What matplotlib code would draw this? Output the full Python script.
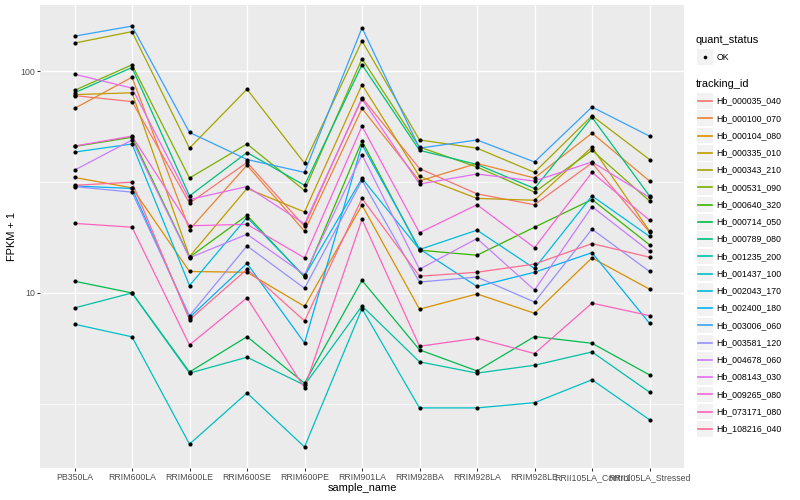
import matplotlib
matplotlib.use("Agg")
import matplotlib.pyplot as plt
from matplotlib.patches import Rectangle
from matplotlib.lines import Line2D
import numpy as np

plt.rcParams['font.family'] = ['Liberation Sans', 'DejaVu Sans']

samples = ["PB350LA", "RRIM600LA", "RRIM600LE", "RRIM600SE", "RRIM600PE",
           "RRIM901LA", "RRIM928BA", "RRIM928LA", "RRIM928LE",
           "RRII105LA_Control", "RRII105LA_Stressed"]

tracking_ids = ["Hb_000035_040", "Hb_000100_070", "Hb_000104_080", "Hb_000335_010",
                "Hb_000343_210", "Hb_000531_090", "Hb_000640_320", "Hb_000714_050",
                "Hb_000789_080", "Hb_001235_200", "Hb_001437_100", "Hb_002043_170",
                "Hb_002400_180", "Hb_003006_060", "Hb_003581_120", "Hb_004678_060",
                "Hb_008143_030", "Hb_009265_080", "Hb_073171_080", "Hb_108216_040"]

colors = ["#F8766D", "#EA8331", "#D89000", "#C09B00", "#A3A500", "#7CAE00", "#39B600",
          "#00BB4E", "#00BF7D", "#00C1A3", "#00BFC4", "#00BAE0", "#00B0F6", "#35A2FF",
          "#9590FF", "#C77CFF", "#E76BF3", "#FA62DB", "#FF62BC", "#FF6C91"]

# FPKM + 1 per sample (order as in `samples`)
hb_000035_040 = [77.7, 73, 25.4, 38.8, 20, 76, 36.4, 28, 25, 38.6, 18.8]
hb_000100_070 = [68, 94, 19.3, 37.7, 19, 68, 32, 38.4, 33, 52.6, 32]
hb_000104_080 = [33.2, 29.8, 12.5, 12.4, 8.7, 24.9, 8.45, 9.9, 8.1, 14.4, 10.4]
hb_000335_010 = [78.5, 80, 14.6, 29.6, 23.2, 87, 33.6, 26.7, 26.2, 45.5, 19]
hb_000343_210 = [134, 151, 45, 83, 38.5, 137, 49, 45, 35, 63, 40]
hb_000531_090 = [82, 107, 33, 47, 29, 114, 45.5, 37, 28.5, 44, 26]
hb_000640_320 = [45.8, 50.4, 14.5, 22.4, 11.8, 48.4, 15.6, 14.8, 19.8, 26.4, 16.5]
hb_000714_050 = [11.3, 10, 4.4, 6.35, 3.92, 11.4, 5.54, 4.45, 6.36, 5.93, 4.27]
hb_000789_080 = [80, 104, 27.4, 43, 30.6, 107, 44, 38, 29.6, 62, 27.4]
hb_001235_200 = [8.56, 10, 4.35, 5.13, 3.84, 8.74, 4.89, 4.35, 4.72, 5.42, 3.57]
hb_001437_100 = [7.23, 6.34, 2.08, 3.54, 2.02, 8.5, 3.03, 3.03, 3.2, 4.06, 2.68]
hb_002043_170 = [43.2, 47, 10.8, 21.9, 11.9, 32.9, 15.7, 19.2, 12.9, 27.4, 18]
hb_002400_180 = [30.4, 29.6, 7.75, 13.6, 5.95, 46.7, 15.8, 10.7, 12.4, 15.2, 7.3]
hb_003006_060 = [144, 160, 53, 40, 35, 157, 45, 49, 39, 69, 51]
hb_003581_120 = [30.2, 28.5, 7.9, 16.3, 10.5, 32.2, 11.2, 11.8, 9.1, 19.4, 12.5]
hb_004678_060 = [35.8, 49, 14.4, 18.4, 12.1, 42, 12.8, 17.6, 10.3, 24.5, 15.4]
hb_008143_030 = [97, 84, 26.4, 30.2, 20.5, 75, 31, 34.4, 32, 39, 27]
hb_009265_080 = [46, 51, 20.1, 20.4, 14.4, 56.5, 18.7, 25, 16, 35, 21.3]
hb_073171_080 = [20.6, 19.8, 5.83, 9.5, 3.73, 21.5, 5.75, 6.25, 5.33, 9.0, 7.9]
hb_108216_040 = [30.6, 31.6, 7.56, 12.8, 7.48, 26.7, 11.9, 12.4, 13.5, 16.7, 14.5]

series = [hb_000035_040, hb_000100_070, hb_000104_080, hb_000335_010, hb_000343_210,
          hb_000531_090, hb_000640_320, hb_000714_050, hb_000789_080, hb_001235_200,
          hb_001437_100, hb_002043_170, hb_002400_180, hb_003006_060, hb_003581_120,
          hb_004678_060, hb_008143_030, hb_009265_080, hb_073171_080, hb_108216_040]

W, H = 800, 500
fig = plt.figure(figsize=(W / 100, H / 100), dpi=100)
fig.patch.set_facecolor("white")

# panel in pixel coordinates
pl, pr, pt, pb = 40, 684, 5, 468
ax = fig.add_axes([pl / W, 1 - pb / H, (pr - pl) / W, (pb - pt) / H])
ax.set_facecolor("#EBEBEB")
for s in ax.spines.values():
    s.set_visible(False)

x = np.arange(len(samples))
for vals, c in zip(series, colors):
    ax.plot(x, vals, color=c, lw=0.9, zorder=2, solid_capstyle="butt")
for vals in series:
    ax.plot(x, vals, linestyle="none", marker="o", ms=3.0, mfc="black",
            mec="black", mew=0, zorder=3)

ax.set_yscale("log")
allv = np.concatenate([np.asarray(v, float) for v in series])
lo, hi = np.log10(allv.min()), np.log10(allv.max())
pad = 0.05 * (hi - lo)
ax.set_ylim(10 ** (lo - pad), 10 ** (hi + pad))
ax.set_xlim(-0.6, len(samples) - 0.4)

ax.set_yticks([10, 100])
ax.set_yticklabels(["10", "100"])
ax.set_yticks([10 ** 0.5, 10 ** 1.5], minor=True)
ax.yaxis.set_minor_formatter(matplotlib.ticker.NullFormatter())
ax.set_xticks(x)
ax.set_xticklabels(samples)
ax.xaxis.set_minor_locator(matplotlib.ticker.NullLocator())

ax.set_axisbelow(True)
ax.grid(True, which="major", color="white", lw=1.0)
ax.grid(True, which="minor", axis="y", color="white", lw=0.5)
ax.tick_params(which="major", length=2.0, width=0.75, color="#333333",
               labelsize=6.34, labelcolor="#4D4D4D", pad=1.6)
ax.tick_params(which="minor", length=0)

fs_title = 7.92
fs_text = 6.34


def fx(px):
    return px / W


def fy(py):
    return 1 - py / H


fig.text(fx(12), fy((pt + pb) / 2), "FPKM + 1", rotation=90, ha="center",
         va="center", fontsize=fs_title, color="black")
fig.text(fx((pl + pr) / 2), fy(488), "sample_name", ha="center", va="center",
         fontsize=fs_title, color="black")

# legend: quant_status
lx_title = 696
kx0, kw = 697.3, 15.5
kcx = kx0 + kw / 2
tx = 716.7
fig.text(fx(lx_title), fy(40), "quant_status", ha="left", va="center",
         fontsize=fs_title)
fig.add_artist(Rectangle((fx(kx0), fy(57 + kw / 2)), kw / W, kw / H,
                         transform=fig.transFigure, facecolor="#F2F2F2",
                         edgecolor="none"))
fig.add_artist(Line2D([fx(kcx)], [fy(57)], transform=fig.transFigure,
                      marker="o", ms=2.6, mfc="black", mec="black", mew=0,
                      linestyle="none"))
fig.text(fx(tx), fy(57), "OK", ha="left", va="center", fontsize=fs_text)

# legend: tracking_id
fig.text(fx(lx_title), fy(84.3), "tracking_id", ha="left", va="center",
         fontsize=fs_title)
for i, (name, c) in enumerate(zip(tracking_ids, colors)):
    cy = 101 + 17.25 * i
    fig.add_artist(Rectangle((fx(kx0), fy(cy + kw / 2)), kw / W, kw / H,
                             transform=fig.transFigure, facecolor="#F2F2F2",
                             edgecolor="none"))
    fig.add_artist(Line2D([fx(kx0 + 1), fx(kx0 + kw - 1)], [fy(cy), fy(cy)],
                          transform=fig.transFigure, color=c, lw=1.2))
    fig.text(fx(tx), fy(cy), name, ha="left", va="center", fontsize=fs_text)

fig.savefig("out.png", dpi=100)
